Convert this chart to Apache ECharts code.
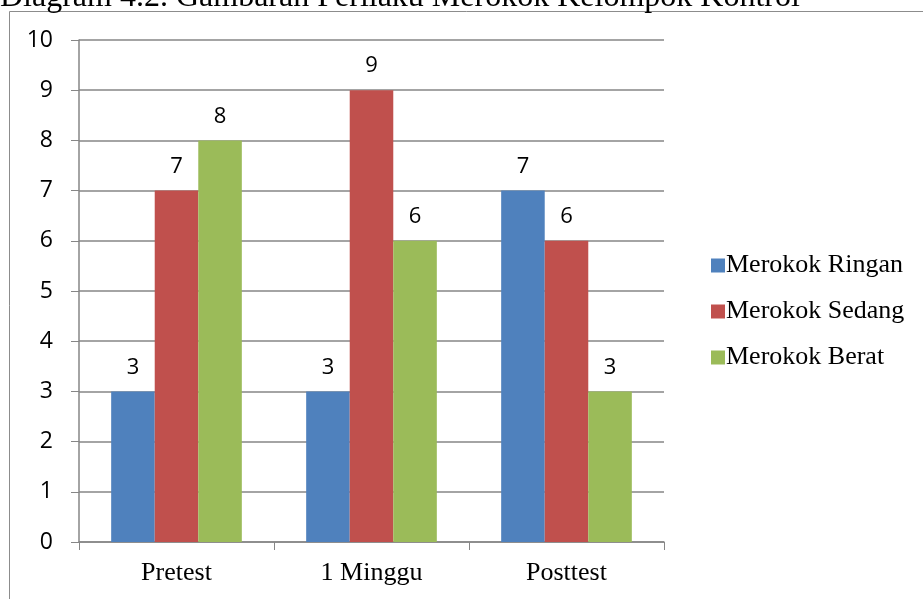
<!DOCTYPE html>
<html><head><meta charset="utf-8">
<script src="https://cdn.jsdelivr.net/npm/echarts@6/dist/echarts.min.js"></script>
<style>html,body{margin:0;padding:0;background:#fff}#c{width:923px;height:599px}</style>
</head><body><div id="c"></div>
<script>
const categories = ['Pretest', '1 Minggu', 'Posttest'];
const seriesNames = ['Merokok Ringan', 'Merokok Sedang', 'Merokok Berat'];
const ringan = [3, 3, 7];
const sedang = [7, 9, 6];
const berat = [8, 6, 3];
const colors = ['#4f81bd', '#c0504d', '#9bbb59'];
const titleText = 'Diagram 4.2. Gambaran Perilaku Merokok Kelompok Kontrol';

const chart = echarts.init(document.getElementById('c'));
const mk = (name, data, i) => ({
  name, type: 'bar', data, barGap: '0%', barCategoryGap: '33%',
  itemStyle: { color: colors[i] },
  label: { show: true, position: 'top', distance: 13, color: '#000', fontSize: 22, fontFamily: 'Open Sans' }
});
chart.setOption({
  animation: false,
  graphic: [
    { type: 'rect', shape: { x: 9.5, y: 11.5, width: 1200, height: 800 }, style: { fill: 'none', stroke: '#8c8c8c', lineWidth: 1 } },
    { type: 'text', left: 0, top: -18, style: { text: titleText, font: '32px "Liberation Serif"', fill: '#000' } }
  ],
  grid: { left: 79, top: 40, width: 585, height: 502 },
  legend: {
    orient: 'vertical', left: 706, top: 247, itemGap: 19, itemWidth: 14, itemHeight: 14,
    icon: 'rect', data: seriesNames,
    textStyle: { fontFamily: 'Liberation Serif', fontSize: 26, lineHeight: 27, color: '#000', padding: [0, 0, 0, -4] }
  },
  xAxis: {
    type: 'category', data: categories,
    axisLine: { lineStyle: { color: '#868686', width: 1.5 } },
    axisTick: { show: true, length: 8, lineStyle: { color: '#868686' } },
    axisLabel: { fontFamily: 'Liberation Serif', fontSize: 26, color: '#000', margin: 18 }
  },
  yAxis: {
    type: 'value', min: 0, max: 10, interval: 1,
    axisLine: { show: true, lineStyle: { color: '#868686', width: 1.5 } },
    axisTick: { show: true, length: 8, lineStyle: { color: '#868686' } },
    axisLabel: { fontFamily: 'Open Sans', fontSize: 23, color: '#000', margin: 26 },
    splitLine: { lineStyle: { color: '#868686', width: 1.5 } }
  },
  series: [mk(seriesNames[0], ringan, 0), mk(seriesNames[1], sedang, 1), mk(seriesNames[2], berat, 2)]
});
</script></body></html>
